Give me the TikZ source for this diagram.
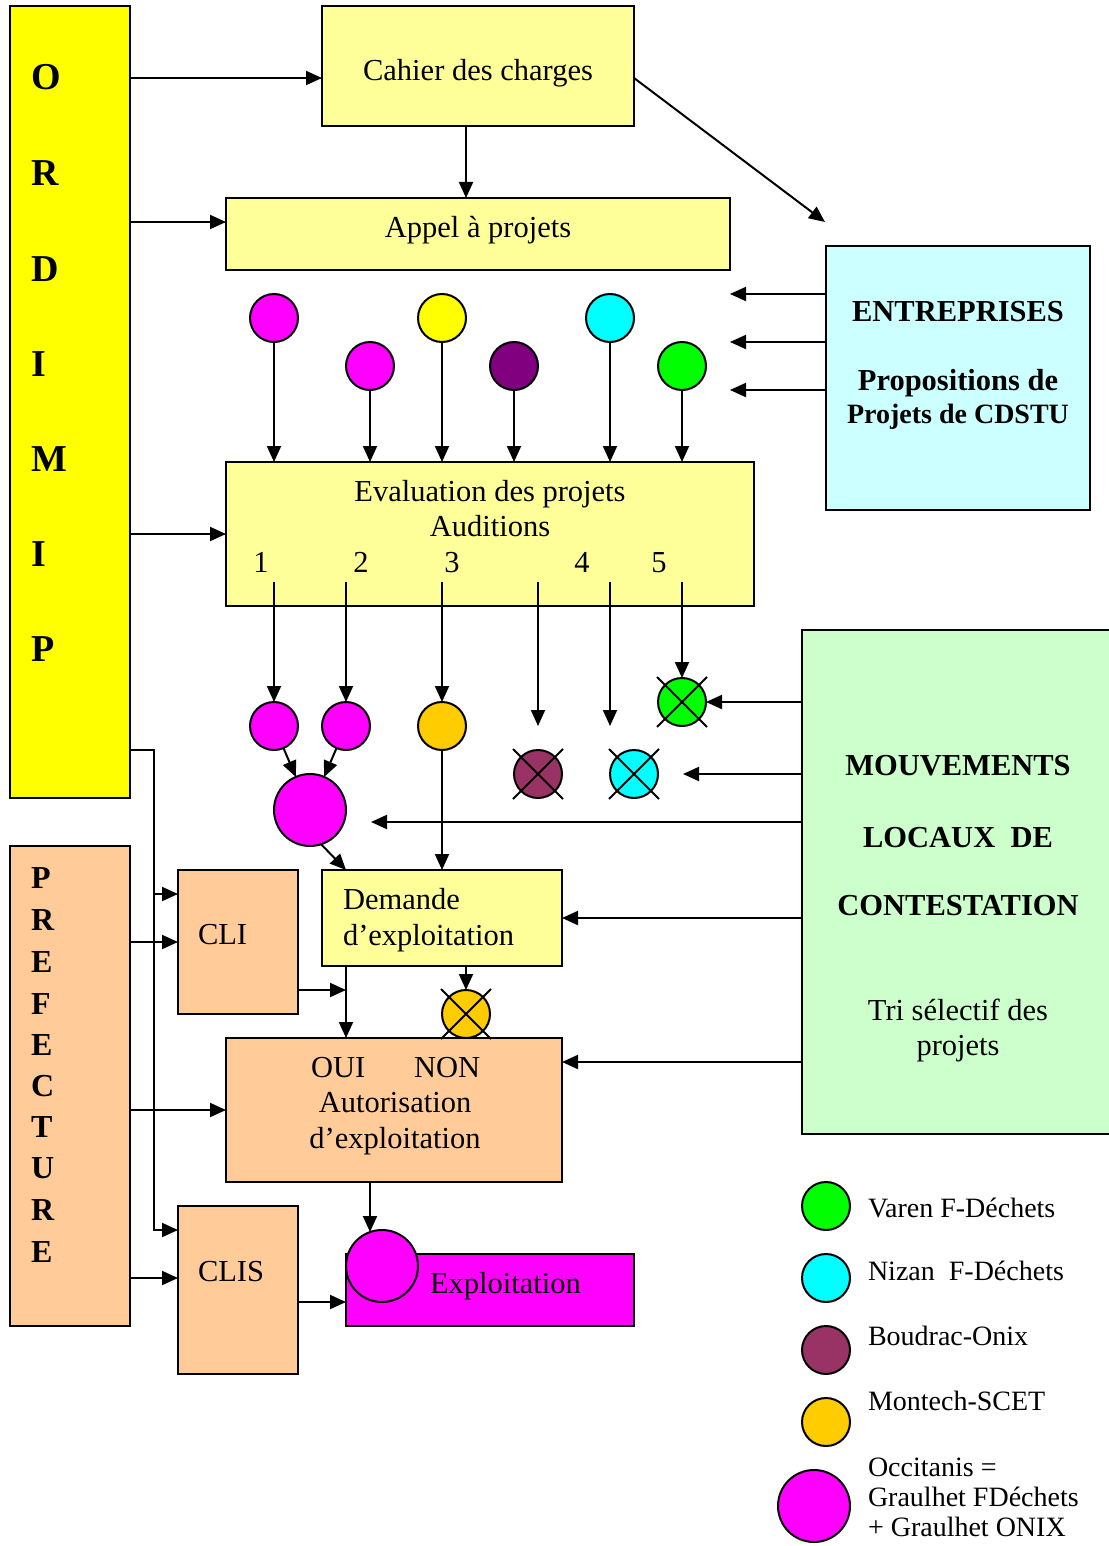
\documentclass[tikz,border=0pt]{standalone}
\usepackage{fontspec}
\setmainfont{Liberation Serif}
\usetikzlibrary{arrows.meta}
\definecolor{cyel}{HTML}{FFFF00}
\definecolor{clyel}{HTML}{FFFF99}
\definecolor{clcyan}{HTML}{CCFFFF}
\definecolor{clgreen}{HTML}{CCFFCC}
\definecolor{cpeach}{HTML}{FFCC99}
\definecolor{cmag}{HTML}{FF00FF}
\definecolor{cpurple}{HTML}{800080}
\definecolor{cplum}{HTML}{993366}
\definecolor{corange}{HTML}{FFCC00}
\definecolor{ccyan}{HTML}{00FFFF}
\definecolor{cgreen}{HTML}{00FF00}
\begin{document}
\begin{tikzpicture}[x=1pt,y=-1pt,line width=2pt,
  arr/.style={-{Triangle[length=16pt,width=14pt]},line width=2pt},
  box/.style={draw,line width=2pt,rectangle,inner sep=0pt,outer sep=0pt},
  dot/.style={draw,circle,line width=2pt,minimum size=48pt,inner sep=0pt,outer sep=0pt},
  bigdot/.style={dot,minimum size=72pt},
  cross/.style={line width=1.8pt},
  txt/.style={inner sep=0pt,outer sep=0pt,font=\fontsize{30.5}{35}\selectfont},
  btxt/.style={inner sep=0pt,outer sep=0pt,font=\fontsize{30.5}{35}\selectfont\bfseries},
  vtxt/.style={inner sep=0pt,outer sep=0pt,font=\fontsize{38}{40}\selectfont\bfseries,anchor=base west},
  ptxt/.style={inner sep=0pt,outer sep=0pt,font=\fontsize{32}{36}\selectfont\bfseries,anchor=base west},
  ltxt/.style={inner sep=0pt,outer sep=0pt,font=\fontsize{28}{32}\selectfont,anchor=base west}]
\useasboundingbox (0,0) rectangle (1108,1546);

% ---- boxes
\node[box,fill=cyel,minimum width=120pt,minimum height=792pt] (ordimip) at (70,402) {};
\node[box,fill=clyel,minimum width=312pt,minimum height=120pt] (cahier) at (478,66) {};
\node[box,fill=clyel,minimum width=504pt,minimum height=72pt] (appel) at (478,234) {};
\node[box,fill=clcyan,minimum width=264pt,minimum height=264pt] (entr) at (958,378) {};
\node[box,fill=clyel,minimum width=528pt,minimum height=144pt] (eval) at (490,534) {};
\node[box,fill=clgreen,minimum width=312pt,minimum height=504pt] (mouv) at (958,882) {};
\node[box,fill=cpeach,minimum width=120pt,minimum height=480pt] (pref) at (70,1086) {};
\node[box,fill=cpeach,minimum width=120pt,minimum height=144pt] (cli) at (238,942) {};
\node[box,fill=clyel,minimum width=240pt,minimum height=96pt] (dem) at (442,918) {};
\node[box,fill=cpeach,minimum width=336pt,minimum height=144pt] (aut) at (394,1110) {};
\node[box,fill=cpeach,minimum width=120pt,minimum height=168pt] (clis) at (238,1290) {};
\node[box,fill=cmag,minimum width=288pt,minimum height=72pt] (expl) at (490,1290) {};
\node[bigdot,fill=cmag] (ecirc) at (382,1266) {};

% ---- texts
\foreach \l/\y in {O/90,R/186,D/281,I/376,M/471,I/566,P/661}
  \node[vtxt] at (31,\y) {\l};
\foreach \l/\y in {P/888,R/930,E/972,F/1014,E/1055,C/1096,T/1137,U/1178,R/1220,E/1262}
  \node[ptxt] at (31,\y) {\l};
\node[txt,anchor=base] (tcahier) at (478,81) {Cahier des charges};
\node[txt,anchor=base] (tappel) at (478,238) {Appel à projets};
\node[btxt,anchor=base] (tentr) at (958,321) {ENTREPRISES};
\node[btxt,anchor=base] (tprop1) at (958,390) {Propositions de};
\node[btxt,anchor=base,font=\fontsize{28}{32}\selectfont\bfseries] (tprop2) at (958,423) {Projets de CDSTU};
\node[txt,anchor=base] (teval1) at (490,501) {Evaluation des projets};
\node[txt,anchor=base] (teval2) at (490,536) {Auditions};
\node[txt,anchor=base] (n1) at (261,572) {1};
\node[txt,anchor=base] (n2) at (361,572) {2};
\node[txt,anchor=base] (n3) at (452,572) {3};
\node[txt,anchor=base] (n4) at (582,572) {4};
\node[txt,anchor=base] (n5) at (659,572) {5};
\node[btxt,anchor=base] (tm1) at (958,775) {MOUVEMENTS};
\node[btxt,anchor=base] (tm2) at (958,847) {LOCAUX\ \ DE};
\node[btxt,anchor=base] (tm3) at (958,915) {CONTESTATION};
\node[txt,anchor=base] (tm4) at (958,1020) {Tri sélectif des};
\node[txt,anchor=base] (tm5) at (958,1055) {projets};
\node[txt,anchor=base west] (tdem1) at (343,909) {Demande};
\node[txt,anchor=base west] (tdem2) at (343,945) {d’exploitation};
\node[txt,anchor=base west] (tcli) at (198,944) {CLI};
\node[txt,anchor=base west] (toui) at (311,1077) {OUI\hspace{49pt}NON};
\node[txt,anchor=base] (taut1) at (395,1112) {Autorisation};
\node[txt,anchor=base] (taut2) at (395,1148) {d’exploitation};
\node[txt,anchor=base west] (tclis) at (198,1281) {CLIS};
\node[txt,anchor=base west] (texpl) at (430,1293) {Exploitation};

% ---- top circles
\node[dot,fill=cmag] (c1) at (274,318) {};
\node[dot,fill=cmag] (c2) at (370,366) {};
\node[dot,fill=cyel] (c3) at (442,318) {};
\node[dot,fill=cpurple] (c4) at (514,366) {};
\node[dot,fill=ccyan] (c5) at (610,318) {};
\node[dot,fill=cgreen] (c6) at (682,366) {};
\foreach \c in {c1,c2,c3,c4,c5,c6}
  \draw[arr] (\c) -- (\c |- eval.north);

% ---- middle circles
\node[dot,fill=cmag] (m1) at (274,726) {};
\node[dot,fill=cmag] (m2) at (346,726) {};
\node[dot,fill=corange] (m3) at (442,726) {};
\node[bigdot,fill=cmag] (big) at (310,810) {};
\node[dot,fill=cgreen] (xg) at (682,702) {};
\node[dot,fill=cplum] (xp) at (538,774) {};
\node[dot,fill=ccyan] (xc) at (634,774) {};
\node[dot,fill=corange] (xo) at (466,1014) {};
\foreach \c in {xg,xp,xc,xo}
  \draw[cross] (\c.center) ++(-25,-25) -- ++(50,50) (\c.center) ++(25,-25) -- ++(-50,50);

% ---- coordinates
\coordinate (s1) at (274,582);
\coordinate (s2) at (346,582);
\coordinate (s3) at (442,582);
\coordinate (s4) at (538,582);
\coordinate (s5) at (610,582);
\coordinate (s6) at (682,582);
\coordinate (f4) at (538,726);
\coordinate (f5) at (610,726);
\coordinate (r78) at (0,78);
\coordinate (r222) at (0,222);
\coordinate (r534) at (0,534);
\coordinate (diagend) at (825,222);
\coordinate (e1) at (730,294);
\coordinate (e2) at (730,342);
\coordinate (e3) at (730,390);
\coordinate (mv2) at (683,774);
\coordinate (mv3) at (371,822);
\coordinate (bd) at (346,870);
\coordinate (ca) at (466,0);
\coordinate (k1) at (346,990);
\coordinate (v346) at (346,0);
\coordinate (v466) at (466,0);
\coordinate (v370) at (370,1232);
\coordinate (p1) at (154,750);
\coordinate (p2) at (154,1230);
\coordinate (p3) at (154,894);

% ---- connectors
\draw[arr] (ordimip.east |- r78) -- (cahier.west |- r78);
\draw[arr] (ordimip.east |- r222) -- (appel.west |- r222);
\draw[arr] (ordimip.east |- r534) -- (eval.west |- r534);
\draw[arr] (cahier.south -| ca) -- (appel.north -| ca);
\draw[arr] (cahier.east |- r78) -- (diagend);
\draw[arr] (entr.west |- e1) -- (e1);
\draw[arr] (entr.west |- e2) -- (e2);
\draw[arr] (entr.west |- e3) -- (e3);
\draw[arr] (s1) -- (m1);
\draw[arr] (s2) -- (m2);
\draw[arr] (s3) -- (m3);
\draw[arr] (s4) -- (f4);
\draw[arr] (s5) -- (f5);
\draw[arr] (s6) -- (xg);
\draw[arr] (m1) -- (big);
\draw[arr] (m2) -- (big);
\draw[arr] (big.-72) -- (bd);
\draw[arr] (m3) -- (dem.north -| m3);
\draw[arr] (mouv.west |- xg) -- (xg);
\draw[arr] (mouv.west |- mv2) -- (mv2);
\draw[arr] (mouv.west |- mv3) -- (mv3);
\draw[arr] (mouv.west |- dem.east) -- (dem.east);
\draw[arr] (mouv.west |- 0,1062) -- (aut.east |- 0,1062);
\draw[arr] (dem.south -| v346) -- (aut.north -| v346);
\draw[arr] (cli.east |- k1) -- (k1);
\draw[arr] (dem.south -| v466) -- (xo);
\draw[arr] (aut.south -| v370) -- (v370);
\draw[arr] (ordimip.east |- p1) -- (p1) -- (p2) -- (clis.west |- p2);
\draw[arr] (p3) -- (cli.west |- p3);
\draw[arr] (pref.east |- 0,942) -- (cli.west |- 0,942);
\draw[arr] (pref.east |- 0,1110) -- (aut.west |- 0,1110);
\draw[arr] (pref.east |- 0,1278) -- (clis.west |- 0,1278);
\draw[arr] (clis.east |- 0,1302) -- (expl.west |- 0,1302);

% ---- legend
\node[dot,fill=cgreen] (lg1) at (826,1206) {};
\node[dot,fill=ccyan] (lg2) at (826,1278) {};
\node[dot,fill=cplum] (lg3) at (826,1350) {};
\node[dot,fill=corange] (lg4) at (826,1422) {};
\node[bigdot,fill=cmag] (lg5) at (814,1506) {};
\node[ltxt] (tl1) at (868,1217) {Varen F-Déchets};
\node[ltxt] (tl2) at (868,1280) {Nizan\ \ F-Déchets};
\node[ltxt] (tl3) at (868,1345) {Boudrac-Onix};
\node[ltxt] (tl4) at (868,1410) {Montech-SCET};
\node[ltxt] (tl5) at (868,1476) {Occitanis =};
\node[ltxt] (tl6) at (868,1506) {Graulhet FDéchets};
\node[ltxt] (tl7) at (868,1536) {+ Graulhet ONIX};
\end{tikzpicture}
\end{document}
